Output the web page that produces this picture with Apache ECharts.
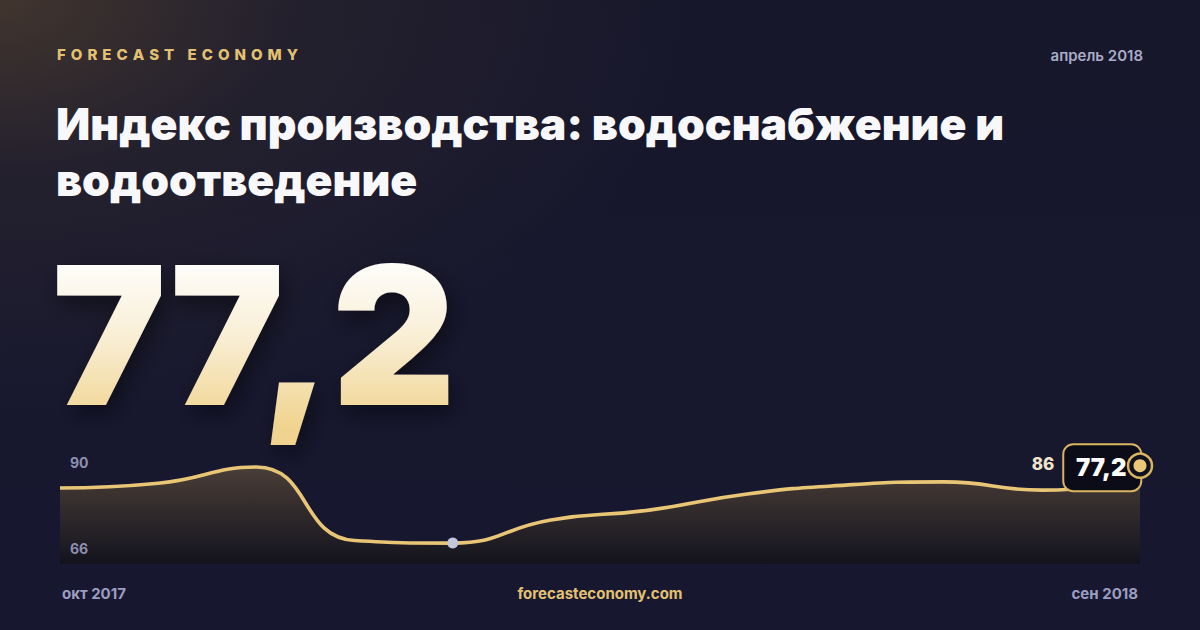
<!DOCTYPE html>
<html>
<head>
<meta charset="utf-8">
<script src="https://cdn.jsdelivr.net/npm/echarts@6/dist/echarts.min.js"></script>
<style>
  html, body { margin: 0; padding: 0; width: 1200px; height: 630px; overflow: hidden; }
  body {
    background:
      radial-gradient(ellipse 700px 420px at 0px 0px, rgba(72,58,46,0.85) 0%, rgba(52,44,48,0.45) 40%, rgba(26,26,46,0) 100%),
      linear-gradient(180deg, #17172b 0%, #171830 100%);
  }
  #chart { width: 1200px; height: 630px; }
</style>
</head>
<body>
<div id="chart"></div>
<script>
// ---- data ----
const categories = ['окт 2017','ноя 2017','дек 2017','янв 2018','фев 2018','мар 2018','апр 2018','май 2018','июн 2018','июл 2018','авг 2018','сен 2018'];
const values = [83.4, 84.9, 90.0, 66.8, 66.0, 73.3, 76.4, 81.5, 84.3, 85.3, 82.7, 86.0];
const yTickLabels = ['90', '66'];
const xEdgeLabels = ['окт 2017', 'сен 2018'];
const headlineValue = '77,2';
const brand = 'FORECAST ECONOMY';
const periodLabel = 'апрель 2018';
const titleLines = ['Индекс производства: водоснабжение и', 'водоотведение'];
const siteLabel = 'forecasteconomy.com';

const lastIdx = values.length - 1;
const minIdx = values.indexOf(Math.min.apply(null, values));
const FONT = 'Inter, "Noto Sans", sans-serif';

const chart = echarts.init(document.getElementById('chart'), null, { renderer: 'svg' });

const option = {
  backgroundColor: 'transparent',
  animation: false,
  grid: { left: 60, right: 60, top: 448, bottom: 66 },
  xAxis: { type: 'category', data: categories, boundaryGap: false, show: false },
  yAxis: { type: 'value', min: 59.4, max: 96, show: false },
  series: [
    {
      type: 'line', data: values, smooth: true, symbol: 'none', z: 2,
      lineStyle: { color: '#e9c676', width: 3.6 },
      areaStyle: {
        opacity: 1,
        color: new echarts.graphic.LinearGradient(0, 0, 0, 1, [
          { offset: 0, color: '#4a3e37' },
          { offset: 1, color: '#13131e' }
        ])
      }
    },
    {
      // highlighted minimum point
      type: 'scatter', z: 3,
      data: [[categories[minIdx], values[minIdx]]],
      symbol: 'circle', symbolSize: 11,
      itemStyle: { color: '#c2c5dc', opacity: 1 }
    },
    {
      // end-of-series value box
      type: 'scatter', z: 4,
      data: [[categories[lastIdx], values[lastIdx]]],
      symbol: 'circle', symbolSize: 1, itemStyle: { color: 'transparent', opacity: 1 },
      label: {
        show: true, position: 'inside', offset: [-54, -12],
        formatter: function (p) { return '{a|' + p.value[1].toFixed(0) + '}{b|' + headlineValue + '}'; },
        rich: {
          a: { color: '#efe4cb', fontFamily: FONT, fontWeight: 800, fontSize: 17, padding: [0, 10, 8, 0] },
          b: {
            color: '#ffffff', fontFamily: FONT, fontWeight: 900, fontSize: 24,
            backgroundColor: '#0b0c18', borderColor: '#d9b461', borderWidth: 2, borderRadius: 9,
            width: 50, height: 27, lineHeight: 27, padding: [9, 14, 9, 12]
          }
        }
      }
    },
    {
      // end marker ring
      type: 'scatter', z: 5,
      data: [[categories[lastIdx], values[lastIdx]]],
      symbol: 'circle', symbolSize: 24, symbolOffset: [0, -14],
      itemStyle: { color: '#10111f', borderColor: '#d9b461', borderWidth: 2.5, opacity: 1 }
    },
    {
      type: 'scatter', z: 6,
      data: [[categories[lastIdx], values[lastIdx]]],
      symbol: 'circle', symbolSize: 13, symbolOffset: [0, -14],
      itemStyle: { color: '#eac877', opacity: 1 }
    }
  ],
  graphic: [
    { type: 'text', x: 57, y: 54, z: 10, style: {
      text: brand.split('').join('\u2004'), fill: '#e3c173',
      font: '800 15px ' + FONT, verticalAlign: 'middle' } },
    { type: 'text', x: 1143, y: 55, z: 10, style: {
      text: periodLabel, fill: '#a9abc7', align: 'right',
      font: '600 15px ' + FONT, verticalAlign: 'middle' } },
    { type: 'text', x: 56, y: 124, z: 10, style: {
      text: titleLines[0], fill: '#f8f8fb',
      font: '900 44.5px ' + FONT, verticalAlign: 'middle' } },
    { type: 'text', x: 56, y: 180, z: 10, style: {
      text: titleLines[1], fill: '#f8f8fb',
      font: '900 44.5px ' + FONT, verticalAlign: 'middle' } },
    { type: 'text', id: 'headline', x: 52, y: 335, z: 10, style: {
      text: headlineValue, fill: '#f8eed6',
      font: '900 192px ' + FONT, verticalAlign: 'middle',
      textShadowColor: 'rgba(0,0,0,0.45)', textShadowBlur: 22, textShadowOffsetX: 4, textShadowOffsetY: 9 } },
    { type: 'text', x: 70, y: 462, z: 10, style: {
      text: yTickLabels[0], fill: '#8c8fb1', font: '700 14px ' + FONT, verticalAlign: 'middle' } },
    { type: 'text', x: 70, y: 548, z: 10, style: {
      text: yTickLabels[1], fill: '#8c8fb1', font: '700 14px ' + FONT, verticalAlign: 'middle' } },
    { type: 'text', x: 62, y: 593, z: 10, style: {
      text: xEdgeLabels[0], fill: '#9b9ec0', font: '700 15px ' + FONT, verticalAlign: 'middle' } },
    { type: 'text', x: 600, y: 593, z: 10, style: {
      text: siteLabel, fill: '#e3c173', align: 'center', font: '700 15px ' + FONT, verticalAlign: 'middle' } },
    { type: 'text', x: 1138, y: 593, z: 10, style: {
      text: xEdgeLabels[1], fill: '#9b9ec0', align: 'right', font: '700 15px ' + FONT, verticalAlign: 'middle' } }
  ]
};
chart.setOption(option);

// vertical white-to-gold gradient on the headline number
// (zrender's Text turns gradient fills into black, so it is applied to the drawn span)
(function () {
  const zr = chart.getZr();
  const grad = new echarts.graphic.LinearGradient(0, 0, 0, 1, [
    { offset: 0.15, color: '#ffffff' },
    { offset: 0.5, color: '#f9efd6' },
    { offset: 0.9, color: '#f0d38e' }
  ]);
  zr.storage.getDisplayList(true).forEach(function (el) {
    if (el.style && el.style.text === headlineValue && /192px/.test(el.style.font || '')) {
      el.style.fill = grad;
      el.markRedraw();
    }
  });
  zr.refreshImmediately();
})();
</script>
</body>
</html>
